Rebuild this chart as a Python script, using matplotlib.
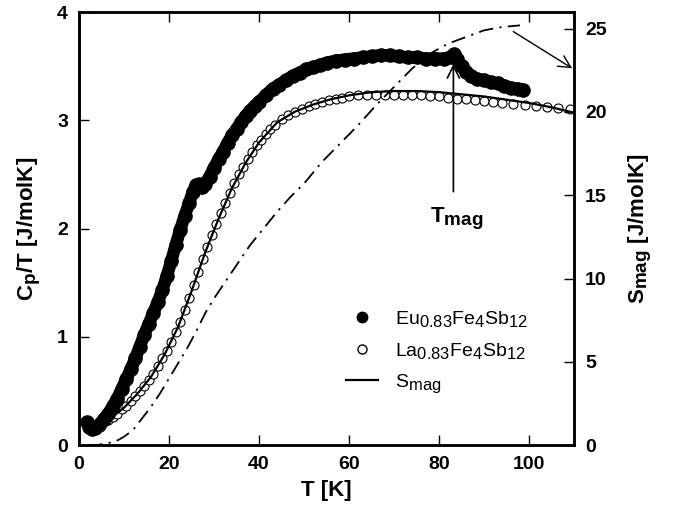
import matplotlib
matplotlib.use("Agg")
import matplotlib.pyplot as plt
import matplotlib._mathtext as mathtext_impl
from matplotlib.lines import Line2D

plt.rcParams['font.family'] = ['Liberation Sans', 'DejaVu Sans']
plt.rcParams['mathtext.default'] = 'regular'
# subscripts in the original are only a little smaller than the text
mathtext_impl.SHRINK_FACTOR = 0.85

# Eu0.83Fe4Sb12, Cp/T [J/molK]
eu_T = [1.8, 2.3, 2.8, 3.5, 4.5, 5.5, 6.5, 7.5, 8.5, 9.5, 10.5, 11.5, 12.5, 13.5,
        14.5, 15.5, 16.5, 17.5, 18.5, 19.5, 20.5, 21.5, 22.5, 23.5, 24.5, 25.3,
        26, 26.7, 27.3, 28, 29, 30, 31, 32, 33, 34, 35, 36, 37, 38, 39, 40, 41.5,
        43, 44.5, 46, 47.5, 49, 50.5, 52, 53.5, 55, 57, 59, 61, 63, 65, 67, 69,
        71, 73, 75, 77, 79, 81, 82.5, 83.3, 84, 85, 86, 87, 88.5, 90, 91.5, 93,
        94.5, 96, 97.5, 98.7]
eu_C = [0.21, 0.17, 0.15, 0.16, 0.19, 0.24, 0.29, 0.36, 0.43, 0.52, 0.61, 0.70,
        0.80, 0.91, 1.02, 1.12, 1.22, 1.32, 1.43, 1.56, 1.70, 1.85, 1.99, 2.12,
        2.24, 2.34, 2.40, 2.41, 2.38, 2.41, 2.48, 2.56, 2.64, 2.71, 2.79, 2.86,
        2.92, 2.98, 3.04, 3.09, 3.13, 3.17, 3.23, 3.29, 3.33, 3.37, 3.41, 3.44,
        3.47, 3.49, 3.51, 3.53, 3.55, 3.56, 3.57, 3.58, 3.59, 3.60, 3.60, 3.59,
        3.58, 3.58, 3.57, 3.57, 3.57, 3.58, 3.61, 3.57, 3.50, 3.45, 3.41, 3.38,
        3.37, 3.35, 3.34, 3.32, 3.30, 3.29, 3.28]

# La0.83Fe4Sb12, Cp/T [J/molK]
la_T = [2.5, 3.5, 4.5, 5.5, 6.5, 7.5, 8.5, 9.5, 10.5, 11.5, 12.5, 13.5, 14.5,
        15.5, 16.5, 17.5, 18.5, 19.5, 20.5, 21.5, 22.5, 23.5, 24.5, 25.5, 26.5,
        27.5, 28.5, 29.5, 30.5, 31.5, 32.5, 33.5, 34.5, 35.5, 36.5, 37.5, 38.5,
        39.5, 40.5, 41.5, 42.5, 43.5, 45, 46.5, 48, 49.5, 51, 52.5, 54, 55.5, 57,
        58.5, 60, 62, 64, 66, 68, 70, 72, 74, 76, 78, 80, 82, 84, 86, 88, 90, 92,
        94, 96.5, 99, 101.5, 104, 106.5, 109]
la_C = [0.17, 0.17, 0.19, 0.21, 0.23, 0.26, 0.29, 0.33, 0.36, 0.41, 0.45, 0.50,
        0.55, 0.60, 0.66, 0.73, 0.80, 0.87, 0.95, 1.04, 1.14, 1.25, 1.36, 1.48,
        1.60, 1.72, 1.83, 1.94, 2.04, 2.14, 2.24, 2.33, 2.42, 2.50, 2.57, 2.64,
        2.71, 2.77, 2.82, 2.87, 2.92, 2.96, 3.01, 3.05, 3.08, 3.10, 3.13, 3.15,
        3.17, 3.19, 3.20, 3.21, 3.22, 3.23, 3.23, 3.23, 3.23, 3.23, 3.23, 3.23,
        3.23, 3.22, 3.22, 3.21, 3.20, 3.20, 3.19, 3.18, 3.17, 3.16, 3.15, 3.14,
        3.13, 3.12, 3.11, 3.10]

# fit through La data
fit_T = [3, 5, 7, 10, 13, 16, 19, 22, 25, 28, 31, 34, 37, 40, 44, 48, 52, 56,
         60, 65, 70, 75, 80, 85, 90, 95, 100, 105, 110]
fit_C = [0.17, 0.20, 0.245, 0.345, 0.475, 0.63, 0.835, 1.09, 1.42, 1.775, 2.09,
         2.375, 2.605, 2.795, 2.98, 3.08, 3.145, 3.195, 3.23, 3.26, 3.27, 3.27,
         3.26, 3.24, 3.22, 3.19, 3.16, 3.12, 3.07]

# magnetic entropy, right axis [J/molK]
smag_T = [2, 4, 6, 8, 10, 12, 14, 16, 18, 20, 22, 24, 26, 28, 30, 32, 35, 38,
          41, 44, 47, 50, 54, 58, 62, 66, 70, 74, 78, 82, 86, 90, 94, 98]
smag_S = [0, 0, 0.1, 0.2, 0.5, 0.9, 1.6, 2.3, 3.1, 4.0, 4.9, 5.8, 6.8, 7.9, 8.8,
          9.6, 10.8, 12.0, 13.0, 14.0, 14.9, 15.7, 17.0, 18.1, 19.2, 20.4, 21.5,
          22.6, 23.5, 24.1, 24.5, 24.9, 25.1, 25.2]

fig = plt.figure(figsize=(6.73, 5.23), dpi=100)
ax = fig.add_axes([0.1174, 0.149, 0.7355, 0.828])
ax2 = ax.twinx()

ax.plot(eu_T, eu_C, '-o', color='black', lw=9, ms=9.5, zorder=3,
        solid_capstyle='round')
ax.plot(la_T, la_C, 'o', mfc='white', mec='black', mew=0.8, ms=6.5, zorder=2)
ax.plot(fit_T, fit_C, '-', color='black', lw=1.6, zorder=4)
ax2.plot(smag_T, smag_S, color='black', lw=1.3, dashes=(8, 3.5, 1.2, 3.5))

ax.set_xlim(0, 110)
ax.set_ylim(0, 4)
ax2.set_ylim(0, 26)
ax.set_xticks([0, 20, 40, 60, 80, 100])
ax.set_yticks([0, 1, 2, 3, 4])
ax2.set_yticks([0, 5, 10, 15, 20, 25])

for a in (ax, ax2):
    for s in a.spines.values():
        s.set_linewidth(1.8)
ax.tick_params(direction='in', length=7, width=1, top=True, labelsize=14, pad=8)
ax2.tick_params(direction='in', length=7, width=1, labelsize=14, pad=8)
for lab in ax.get_xticklabels() + ax.get_yticklabels() + ax2.get_yticklabels():
    lab.set_fontweight('bold')

ax.set_xlabel('T [K]', fontsize=16, fontweight='bold', labelpad=5)
ax.set_ylabel('C$_p$/T [J/molK]', fontsize=16, fontweight='bold', labelpad=10)
ax2.set_ylabel('S$_{mag}$ [J/molK]', fontsize=16, fontweight='bold', labelpad=14)

# T_mag marker
ax.annotate('', xy=(83.2, 3.52), xytext=(83.2, 2.34),
            arrowprops=dict(arrowstyle='->', color='black', lw=1.2,
                            mutation_scale=22, shrinkA=0, shrinkB=0))
ax.text(84.0, 2.06, 'T$_{mag}$', fontsize=16, fontweight='bold', ha='center')

# arrow to the right axis
ax.annotate('', xy=(109.6, 3.48), xytext=(96.5, 3.82),
            arrowprops=dict(arrowstyle='->', color='black', lw=1,
                            mutation_scale=22, shrinkA=0, shrinkB=0),
            annotation_clip=False)

handles = [Line2D([], [], marker='o', ls='none', color='black', ms=7.5),
           Line2D([], [], marker='o', ls='none', mfc='white', mec='black', ms=6.5),
           Line2D([], [], color='black', lw=1.6)]
labels = ['Eu$_{0.83}$Fe$_4$Sb$_{12}$', 'La$_{0.83}$Fe$_4$Sb$_{12}$', 'S$_{mag}$']
ax.legend(handles, labels, loc='upper left', bbox_to_anchor=(0.505, 0.355),
          frameon=False, fontsize=14, handlelength=1.6, handletextpad=0.9,
          labelspacing=0.6)

fig.savefig('out.png', dpi=100)
